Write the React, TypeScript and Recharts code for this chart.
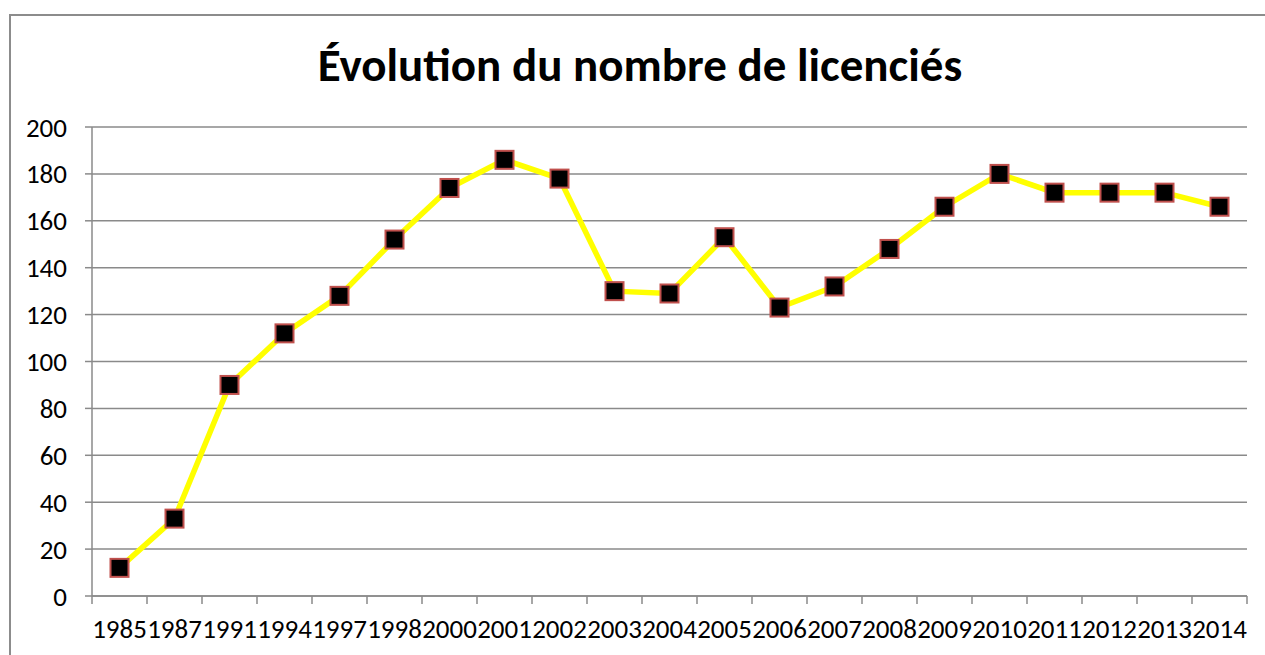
import { LineChart, Line, XAxis, YAxis, CartesianGrid } from "recharts";

const years = [
  "1985", "1987", "1991", "1994", "1997", "1998", "2000", "2001", "2002", "2003", "2004",
  "2005", "2006", "2007", "2008", "2009", "2010", "2011", "2012", "2013", "2014",
];
const licencies = [
  12, 33, 90, 112, 128, 152, 174, 186, 178, 130, 129,
  153, 123, 132, 148, 166, 180, 172, 172, 172, 166,
];
const yTicks = [0, 20, 40, 60, 80, 100, 120, 140, 160, 180, 200];

const data = years.map((year, i) => ({ year, value: licencies[i] }));

const FONT = "Carlito, 'Open Sans', sans-serif";
const GRID = "#8a8a8a";
const X_TICK_SIZE = 8;
const X_TICK_MARGIN = 15;

/** Square marker: black fill, reddish border */
const SquareDot = (props: { cx?: number; cy?: number; index?: number }) => {
  const { cx, cy, index } = props;
  if (cx == null || cy == null) return null;
  return (
    <rect
      key={index}
      x={cx - 9}
      y={cy - 9}
      width={18}
      height={18}
      fill="#000"
      stroke="#c0504d"
      strokeWidth={2}
    />
  );
};

interface YearTickProps {
  x?: number;
  y?: number;
  index?: number;
  payload?: { value: string; offset?: number };
}

/** Year label centred in its band, tick marks on the band edges (Excel style) */
const YearTick = ({ x = 0, y = 0, index = 0, payload }: YearTickProps) => {
  const half = payload?.offset ?? 0;
  const top = y - X_TICK_MARGIN - X_TICK_SIZE;
  const bottom = y - X_TICK_MARGIN;
  return (
    <g>
      {index === 0 && (
        <line x1={x - half} x2={x - half} y1={top} y2={bottom} stroke={GRID} strokeWidth={1.5} />
      )}
      <line x1={x + half} x2={x + half} y1={top} y2={bottom} stroke={GRID} strokeWidth={1.5} />
      <text
        x={x}
        y={y}
        dy="0.71em"
        textAnchor="middle"
        fontSize={27}
        fontFamily={FONT}
        fill="#000"
      >
        {payload?.value}
      </text>
    </g>
  );
};

export default function App() {
  return (
    <div
      style={{
        position: "fixed",
        left: 0,
        top: 0,
        width: 1265,
        height: 655,
        overflow: "hidden",
        background: "#fff",
        fontFamily: FONT,
      }}
    >
      {/* chart frame, runs off the right and bottom edges */}
      <div
        style={{
          position: "absolute",
          left: 9,
          top: 14,
          width: 1400,
          height: 800,
          borderLeft: "2px solid #8c8c8c",
          borderTop: "2px solid #8c8c8c",
        }}
      />
      <div
        style={{
          position: "absolute",
          left: 0,
          top: 42,
          width: 1280,
          textAlign: "center",
          fontSize: 47,
          lineHeight: "47px",
          fontWeight: 700,
          color: "#000",
        }}
      >
        Évolution du nombre de licenciés
      </div>
      <div style={{ position: "absolute", left: 0, top: 0 }}>
        <LineChart
          width={1265}
          height={655}
          data={data}
          margin={{ top: 127, right: 18, bottom: 0, left: 10 }}
        >
          <CartesianGrid vertical={false} stroke={GRID} strokeWidth={1.5} />
          <XAxis
            dataKey="year"
            scale="band"
            height={59}
            interval={0}
            stroke={GRID}
            strokeWidth={1.5}
            tickLine={false}
            tickSize={X_TICK_SIZE}
            tickMargin={X_TICK_MARGIN}
            tick={<YearTick />}
          />
          <YAxis
            width={82}
            domain={[0, 200]}
            ticks={yTicks}
            interval={0}
            stroke={GRID}
            strokeWidth={1.5}
            tickSize={7}
            tickMargin={18}
            tick={{ fontSize: 27, fill: "#000", fontFamily: FONT }}
          />
          <Line
            type="linear"
            dataKey="value"
            stroke="#ffff00"
            strokeWidth={5.5}
            dot={SquareDot}
            activeDot={false}
            isAnimationActive={false}
          />
        </LineChart>
      </div>
    </div>
  );
}
